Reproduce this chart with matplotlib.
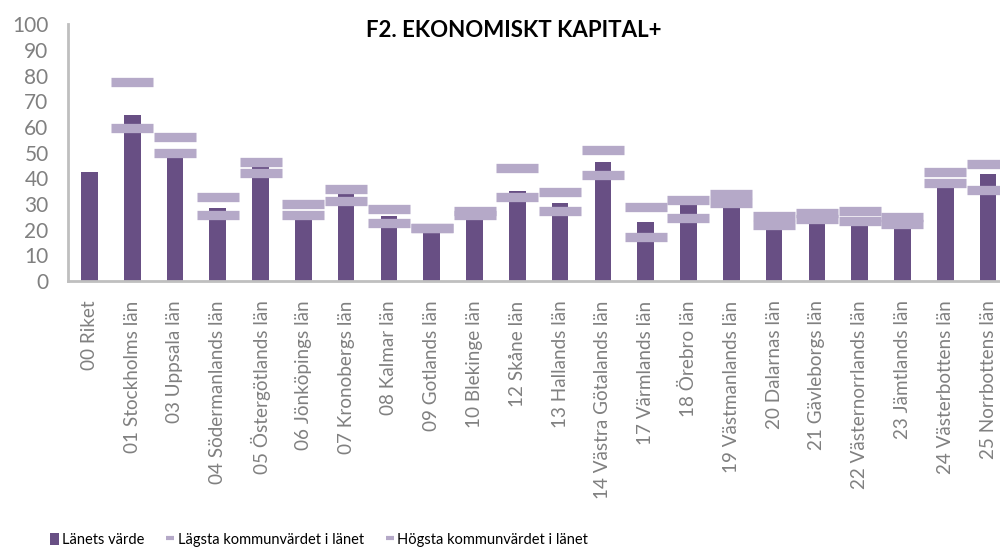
import numpy as np
import matplotlib
matplotlib.use("Agg")
import matplotlib.pyplot as plt
from matplotlib.patches import Patch
from matplotlib.lines import Line2D

plt.rcParams['font.family'] = ['Lato', 'DejaVu Sans']

lan = ["00 Riket", "01 Stockholms län", "03 Uppsala län", "04 Södermanlands län",
       "05 Östergötlands län", "06 Jönköpings län", "07 Kronobergs län", "08 Kalmar län",
       "09 Gotlands län", "10 Blekinge län", "12 Skåne län", "13 Hallands län",
       "14 Västra Götalands län", "17 Värmlands län", "18 Örebro län",
       "19 Västmanlands län", "20 Dalarnas län", "21 Gävleborgs län",
       "22 Västernorrlands län", "23 Jämtlands län", "24 Västerbottens län",
       "25 Norrbottens län"]

lanets_varde = [42.5, 64.8, 48.5, 28.4, 44.3, 24.5, 33.7, 25.4, 20.5, 24.5, 35.2, 30.3,
                46.2, 23.1, 29.7, 29.0, 20.5, 22.5, 22.0, 21.0, 39.5, 41.8]
lagsta = [np.nan, 59.6, 49.7, 25.6, 42.1, 25.7, 31.0, 22.4, 20.8, 25.7, 32.6, 27.3,
          41.4, 17.3, 24.5, 30.3, 21.7, 24.1, 23.5, 22.3, 38.2, 35.6]
hogsta = [np.nan, 77.5, 56.1, 32.6, 46.2, 29.9, 35.9, 27.9, 20.8, 27.4, 44.1, 34.6,
          51.1, 28.7, 31.4, 33.9, 25.3, 26.6, 27.1, 25.0, 42.3, 45.5]

bar_color = "#684F84"
mark_color = "#B5A9C8"
grey = "#808080"

fig = plt.figure(figsize=(10, 5.51), dpi=100)
ax = fig.add_axes([0.068, 0.49, 0.932, 0.466])

x = np.arange(len(lan))
ax.bar(x, lanets_varde, width=0.39, color=bar_color, zorder=2)
ax.plot(x, lagsta, ls='none', marker='_', ms=30, mew=6.7, color=mark_color, zorder=3)
ax.plot(x, hogsta, ls='none', marker='_', ms=30, mew=6.7, color=mark_color, zorder=3)

ax.set_xlim(-0.5, 21.28)
ax.set_ylim(0, 100)
ax.set_yticks(np.arange(0, 101, 10))
ax.set_xticks(x)
ax.set_xticklabels(lan, rotation=90, fontsize=13.6, color=grey, va='top', ha='center')
ax.tick_params(axis='y', length=0, labelsize=15, labelcolor=grey, pad=14)
ax.tick_params(axis='x', length=0, pad=14)

for s in ['top', 'right']:
    ax.spines[s].set_visible(False)
for s in ['left', 'bottom']:
    ax.spines[s].set_color("#BFBFBF")
    ax.spines[s].set_linewidth(2)

fig.text(0.514, 0.945, "F2. EKONOMISKT KAPITAL+", ha='center', va='center',
         fontsize=16, fontweight='bold', color='black')

handles = [
    Patch(facecolor=bar_color, edgecolor='none'),
    Line2D([], [], ls='none', marker='_', ms=6, mew=3, color=mark_color),
    Line2D([], [], ls='none', marker='_', ms=6, mew=3, color=mark_color),
]
names = ["Länets värde", "Lägsta kommunvärdet i länet", "Högsta kommunvärdet i länet"]
fig.legend(handles, names, loc='center left', bbox_to_anchor=(0.05, 0.02), ncol=3,
           frameon=False, prop={'size': 10.5},
           handlelength=0.6, handleheight=0.9,
           handletextpad=0.2, columnspacing=1.5, borderaxespad=0, borderpad=0)

fig.savefig("out.png", dpi=100)
